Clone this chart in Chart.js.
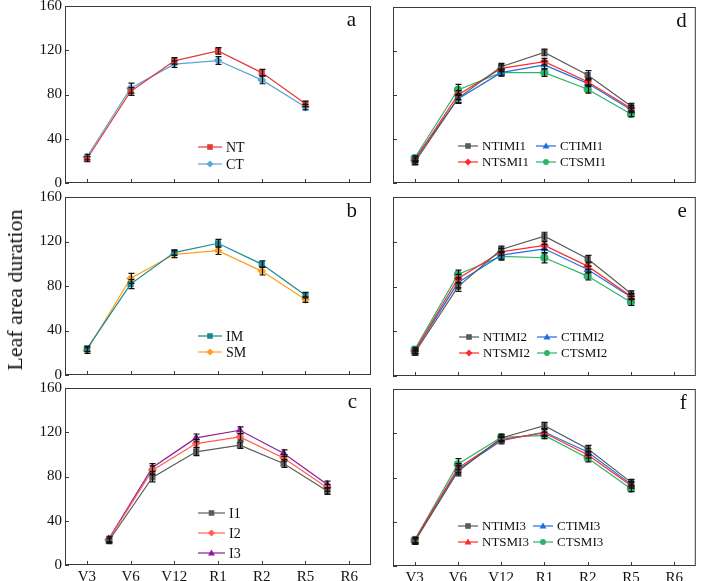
<!DOCTYPE html>
<html>
<head>
<meta charset="utf-8">
<script src="https://cdn.jsdelivr.net/npm/chart.js"></script>
<style>
  body { margin: 0; background: #fff; }
  #wrap { position: relative; width: 701px; height: 581px; overflow: hidden; }
  #wrap canvas { position: absolute; left: 0; top: 0; }
  #ytitle {
    position: absolute; left: 15px; top: 290px;
    transform: translate(-50%, -50%) rotate(-90deg);
    font: 22px "Liberation Serif", "DejaVu Serif", serif; color: #111; white-space: nowrap;
  }
</style>
</head>
<body>
<div id="wrap">
  <canvas id="pa" width="701" height="600"></canvas>
  <canvas id="pb" width="701" height="600"></canvas>
  <canvas id="pc" width="701" height="600"></canvas>
  <canvas id="pd" width="701" height="600"></canvas>
  <canvas id="pe" width="701" height="600"></canvas>
  <canvas id="pf" width="701" height="600"></canvas>
  <div id="ytitle">Leaf area duration</div>
</div>
<script>
// growth stages (x axis) and y ticks
const stages = ['V3', 'V6', 'V12', 'R1', 'R2', 'R5', 'R6'];
const yTicks = [0, 40, 80, 120, 160];

// a: tillage
const ntA = [21.7, 82.7, 110.4, 119.4, 99.8, 71.6];
const ntAErr = [2.5, 3.5, 3, 3, 3, 2.5];
const ctA = [23.5, 85.7, 107.4, 110.7, 93.2, 68.6];
const ctAErr = [2.5, 4.5, 3, 3.5, 3.5, 2.5];

// b: mulching
const imB = [23.5, 81.7, 110.0, 118.4, 99.7, 71.7];
const imBErr = [2.5, 4, 2.5, 3.5, 3, 2.5];
const smB = [22.0, 86.8, 108.5, 111.8, 93.4, 67.8];
const smBErr = [2.5, 4.5, 3, 3.5, 3.5, 2.5];

// c: irrigation
const i1C = [21.7, 79.1, 102.3, 108.3, 91.7, 66.8];
const i1CErr = [2.5, 4, 3.5, 3, 3.5, 3];
const i2C = [22.9, 85.7, 109.8, 115.8, 96.8, 69.8];
const i2CErr = [2.5, 4, 3.5, 3, 3, 3];
const i3C = [23.5, 88.1, 114.9, 121.8, 101.1, 72.8];
const i3CErr = [2.5, 3.5, 3.5, 3, 3, 3];

// d: I1
const ntimi1 = [18.7, 77.0, 105.7, 118.7, 98.2, 70.0];
const ntimi1Err = [2, 4, 3, 3, 4, 2.5];
const ntsmi1 = [20.5, 80.0, 104.2, 110.3, 92.1, 68.0];
const ntsmi1Err = [2, 4, 3, 3, 3, 2.5];
const ctimi1 = [21.7, 76.4, 100.3, 107.3, 90.6, 66.5];
const ctimi1Err = [2, 4, 3, 3.5, 3, 2.5];
const ctsmi1 = [22.7, 84.6, 100.3, 100.3, 85.2, 62.8];
const ctsmi1Err = [2, 5, 3, 3.5, 3.5, 2.5];

// e: I2
const ntimi2 = [20.6, 79.7, 113.1, 125.0, 104.8, 73.7];
const ntimi2Err = [2, 4, 3, 3.5, 3, 2.5];
const ntsmi2 = [22.0, 86.9, 111.0, 116.7, 98.2, 71.3];
const ntsmi2Err = [2, 4, 3, 3.5, 3, 2.5];
const ctimi2 = [22.0, 83.3, 108.0, 113.7, 95.2, 70.7];
const ctimi2Err = [2, 4.5, 3.5, 4, 3, 2.5];
const ctsmi2 = [23.6, 90.7, 107.0, 105.7, 89.3, 66.0];
const ctsmi2Err = [2, 4, 3.5, 4.5, 3.5, 3];

// f: I3
const ntimi3 = [22.0, 85.5, 115.7, 126.9, 106.0, 75.8];
const ntimi3Err = [2.5, 4, 3, 3, 3, 2.5];
const ntsmi3 = [23.5, 88.5, 114.2, 120.2, 100.6, 72.8];
const ntsmi3Err = [2.5, 4, 3, 3, 3, 2.5];
const ctimi3 = [23.0, 87.0, 113.3, 121.1, 103.0, 74.0];
const ctimi3Err = [2.5, 4, 3, 3, 3, 2.5];
const ctsmi3 = [23.5, 92.0, 116.3, 118.1, 97.6, 69.8];
const ctsmi3Err = [2.5, 5, 3, 3, 3.5, 2.5];

const serif = '"Liberation Serif", "DejaVu Serif", serif';
const CH = 600; // canvas height

function marker(ctx, style, x, y, r, color) {
  ctx.save();
  ctx.fillStyle = color;
  ctx.beginPath();
  if (style === 'rect') {
    ctx.rect(x - r * 0.8, y - r * 0.8, r * 1.6, r * 1.6);
  } else if (style === 'rectRot') {
    ctx.moveTo(x, y - r); ctx.lineTo(x + r, y); ctx.lineTo(x, y + r); ctx.lineTo(x - r, y);
  } else if (style === 'triangle') {
    ctx.moveTo(x, y - r); ctx.lineTo(x + r, y + r * 0.7); ctx.lineTo(x - r, y + r * 0.7);
  } else {
    ctx.arc(x, y, r * 0.85, 0, Math.PI * 2);
  }
  ctx.closePath();
  ctx.fill();
  ctx.restore();
}

// error bars, frame, inner ticks, panel letter, legend
const panelPlugin = {
  id: 'panel',
  afterDatasetsDraw(chart) {
    const ctx = chart.ctx;
    const y = chart.scales.y;
    ctx.save();
    ctx.strokeStyle = '#111';
    ctx.lineWidth = 1.2;
    chart.data.datasets.forEach((ds, di) => {
      chart.getDatasetMeta(di).data.forEach((pt, i) => {
        const v = ds.data[i].y, e = ds.err[i];
        const x0 = Math.round(pt.x) + 0.5;
        const y1 = y.getPixelForValue(v + e), y2 = y.getPixelForValue(v - e);
        ctx.beginPath();
        ctx.moveTo(x0, y1); ctx.lineTo(x0, y2);
        ctx.moveTo(x0 - 3, y1); ctx.lineTo(x0 + 3, y1);
        ctx.moveTo(x0 - 3, y2); ctx.lineTo(x0 + 3, y2);
        ctx.stroke();
      });
    });
    ctx.restore();
  },
  afterDraw(chart, args, o) {
    const { ctx, chartArea: a, scales: { x, y } } = chart;
    ctx.save();
    ctx.strokeStyle = '#3a3a3a';
    ctx.lineWidth = 1;
    ctx.strokeRect(a.left + 0.5, a.top + 0.5, a.right - a.left - 1, a.bottom - a.top - 1);
    ctx.beginPath();
    yTicks.forEach(v => {
      const py = Math.round(y.getPixelForValue(v)) + 0.5;
      ctx.moveTo(a.left, py); ctx.lineTo(a.left + 4, py);
    });
    stages.forEach((s, i) => {
      const px = Math.round(x.getPixelForValue(i)) + 0.5;
      ctx.moveTo(px, a.bottom); ctx.lineTo(px, a.bottom - 4);
    });
    ctx.stroke();

    ctx.fillStyle = '#111';
    ctx.font = '21px ' + serif;
    ctx.textAlign = 'right';
    ctx.textBaseline = 'alphabetic';
    ctx.fillText(o.letter, a.right - o.letterDx, a.top + 20);

    const lg = o.legend;
    ctx.font = lg.font + 'px ' + serif;
    ctx.textAlign = 'left';
    ctx.textBaseline = 'middle';
    chart.data.datasets.forEach((ds, i) => {
      const col = Math.floor(i / lg.rows.length), row = i % lg.rows.length;
      const lx = a.left + lg.cols[col], ly = a.top + lg.rows[row];
      ctx.strokeStyle = ds.borderColor;
      ctx.lineWidth = 1.2;
      ctx.beginPath();
      ctx.moveTo(lx, ly); ctx.lineTo(lx + lg.len, ly);
      ctx.stroke();
      marker(ctx, ds.pointStyle, lx + lg.len / 2, ly, 3.5, ds.pointBackgroundColor);
      ctx.fillStyle = '#111';
      ctx.fillText(ds.label, lx + lg.len + 4, ly + 1);
    });
    ctx.restore();
  }
};

function series(label, values, err, color, style, shift) {
  return {
    label: label,
    data: values.map((v, i) => ({ x: i + shift, y: v })),
    err: err,
    borderColor: color,
    backgroundColor: color,
    pointBackgroundColor: color,
    pointBorderColor: color,
    pointStyle: style,
    pointRadius: 3.5,
    borderWidth: 1.2,
    tension: 0
  };
}

function makePanel(id, box, datasets, opt) {
  return new Chart(document.getElementById(id), {
    type: 'line',
    data: { datasets: datasets },
    plugins: [panelPlugin],
    options: {
      responsive: false,
      animation: false,
      events: [],
      layout: {
        padding: { left: box[0] - 40, top: box[1], right: 701 - box[2], bottom: CH - box[3] - 24 }
      },
      scales: {
        x: {
          type: 'linear', min: -0.5, max: 6.5,
          grid: { display: false, drawTicks: false },
          border: { display: false },
          afterBuildTicks: s => { s.ticks = stages.map((_, i) => ({ value: i })); },
          afterFit: s => { s.height = 24; s.paddingLeft = 0; s.paddingRight = 0; },
          ticks: {
            display: opt.xLabels, padding: 3,
            color: '#111', font: { family: serif, size: 15 },
            maxRotation: 0, autoSkip: false,
            callback: v => stages[Math.round(v)]
          }
        },
        y: {
          min: 0, max: 160,
          grid: { display: false, drawTicks: false },
          border: { display: false },
          afterFit: s => { s.width = 40; s.paddingTop = 0; s.paddingBottom = 0; },
          ticks: {
            display: opt.yLabels, stepSize: 40, padding: 3,
            color: '#111', font: { family: serif, size: 15 }
          }
        }
      },
      plugins: {
        legend: { display: false },
        tooltip: { enabled: false },
        panel: { letter: opt.letter, letterDx: opt.letterDx, legend: opt.legend }
      }
    }
  });
}

const gray = '#5a5a5a', red = '#ff2b2b', blue = '#1f6fe0', green = '#2eb36b';

makePanel('pa', [65, 6, 371, 183], [
  series('NT', ntA, ntAErr, '#e5383b', 'rect', 0),
  series('CT', ctA, ctAErr, '#5aa5d2', 'rectRot', 0)
], { letter: 'a', letterDx: 15, yLabels: true, xLabels: false,
     legend: { cols: [133], rows: [141, 158], len: 24, font: 14 } });

makePanel('pb', [65, 197, 371, 375], [
  series('IM', imB, imBErr, '#17898b', 'rect', 0),
  series('SM', smB, smBErr, '#ff9e22', 'rectRot', 0)
], { letter: 'b', letterDx: 14, yLabels: true, xLabels: false,
     legend: { cols: [133], rows: [139, 155], len: 24, font: 14 } });

makePanel('pc', [65, 388, 371, 565], [
  series('I1', i1C, i1CErr, '#5c5c5c', 'rect', 0.5),
  series('I2', i2C, i2CErr, '#ff5f4f', 'rectRot', 0.5),
  series('I3', i3C, i3CErr, '#8b1c98', 'triangle', 0.5)
], { letter: 'c', letterDx: 14, yLabels: true, xLabels: true,
     legend: { cols: [133], rows: [125, 145, 165], len: 27, font: 14 } });

makePanel('pd', [393, 7, 697, 183], [
  series('NTIMI1', ntimi1, ntimi1Err, gray, 'rect', 0),
  series('NTSMI1', ntsmi1, ntsmi1Err, red, 'rectRot', 0),
  series('CTIMI1', ctimi1, ctimi1Err, blue, 'triangle', 0),
  series('CTSMI1', ctsmi1, ctsmi1Err, green, 'circle', 0)
], { letter: 'd', letterDx: 9, yLabels: false, xLabels: false,
     legend: { cols: [65, 143], rows: [139, 155], len: 20, font: 13 } });

makePanel('pe', [393, 197, 697, 376], [
  series('NTIMI2', ntimi2, ntimi2Err, gray, 'rect', 0),
  series('NTSMI2', ntsmi2, ntsmi2Err, red, 'rectRot', 0),
  series('CTIMI2', ctimi2, ctimi2Err, blue, 'triangle', 0),
  series('CTSMI2', ctsmi2, ctsmi2Err, green, 'circle', 0)
], { letter: 'e', letterDx: 9, yLabels: false, xLabels: false,
     legend: { cols: [66, 144], rows: [140, 156], len: 20, font: 13 } });

makePanel('pf', [393, 389, 697, 566], [
  series('NTIMI3', ntimi3, ntimi3Err, gray, 'rect', 0),
  series('NTSMI3', ntsmi3, ntsmi3Err, red, 'triangle', 0),
  series('CTIMI3', ctimi3, ctimi3Err, blue, 'triangle', 0),
  series('CTSMI3', ctsmi3, ctsmi3Err, green, 'circle', 0)
], { letter: 'f', letterDx: 9, yLabels: false, xLabels: true,
     legend: { cols: [65, 140], rows: [137, 153], len: 20, font: 13 } });
</script>
</body>
</html>
